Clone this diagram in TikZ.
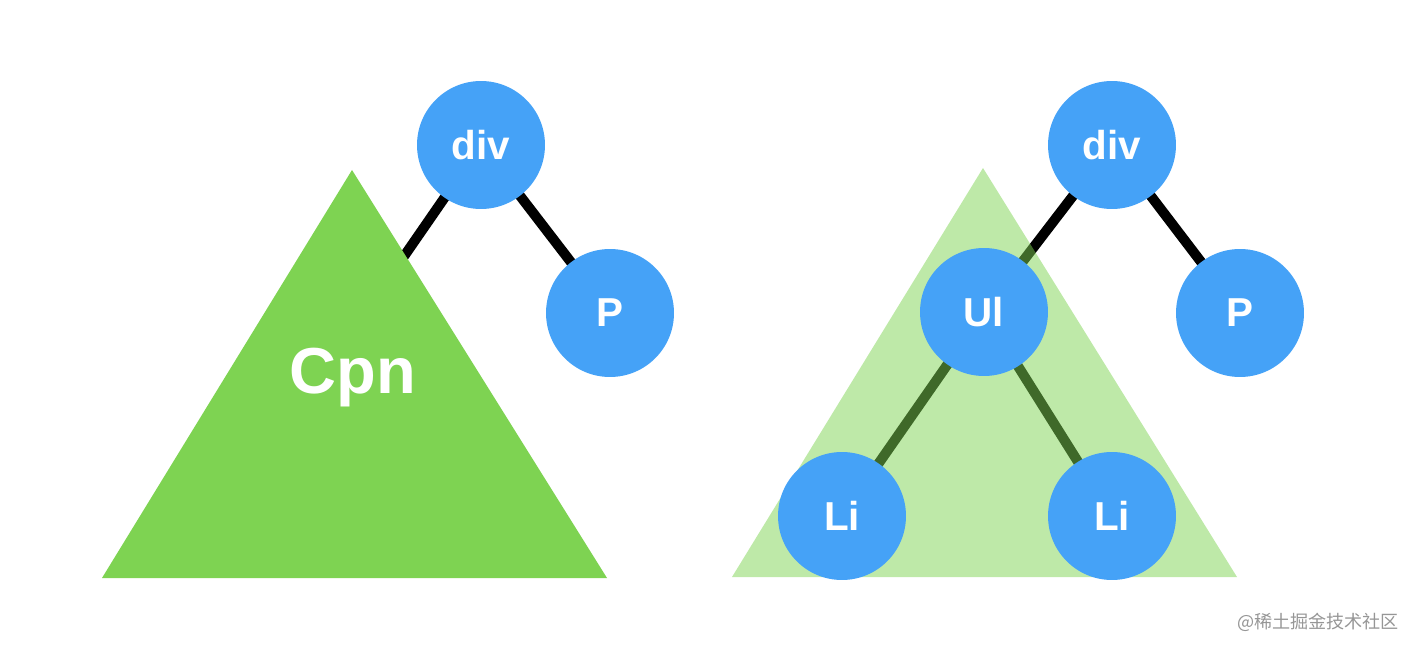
\documentclass[tikz,border=0pt]{standalone}
\usepackage{fontspec}
\setmainfont{Liberation Sans}
\newfontfamily\cjk{Noto Sans CJK SC}
\definecolor{nodeblue}{RGB}{69,162,247}
\definecolor{treegreen}{RGB}{126,211,82}
\definecolor{markgray}{RGB}{150,150,150}

\begin{document}
\begin{tikzpicture}[x=0.02cm, y=-0.02cm,
  vnode/.style={circle, fill=nodeblue, minimum size=2.56cm, inner sep=0pt,
    text=white, font=\fontsize{23}{23}\selectfont\bfseries},
  edge/.style={line width=0.2cm, black}]
  \useasboundingbox (0,0) rectangle (1418,652);
  % left tree: the component hides its subtree
  \coordinate (divL) at (481,145);
  \coordinate (pL) at (610,313);
  \coordinate (cpnTip) at (380,291);
  \draw[edge] (divL) -- (pL);
  \draw[edge] (divL) -- (cpnTip);
  \fill[treegreen] (352,170) -- (607,578) -- (102,578) -- cycle;
  \node[vnode] (divLn) at (divL) {div};
  \node[vnode] (pLn) at (pL) {P};
  \node[text=white, font=\fontsize{37}{37}\selectfont\bfseries] (cpn) at (353,378) {Cpn};
  % right tree: the subtree shows through
  \coordinate (divR) at (1112,145);
  \coordinate (pR) at (1240,313);
  \coordinate (ul) at (984,312);
  \coordinate (liA) at (842,516);
  \coordinate (liB) at (1112,516);
  \draw[edge] (divR) -- (pR);
  \draw[edge] (divR) -- (ul);
  \draw[edge] (ul) -- (liA);
  \draw[edge] (ul) -- (liB);
  \fill[treegreen, fill opacity=0.5] (983,168) -- (1237,577) -- (732,577) -- cycle;
  \node[vnode] (divRn) at (divR) {div};
  \node[vnode] (pRn) at (pR) {P};
  \node[vnode] (uln) at (ul) {Ul};
  \node[vnode] (liAn) at (liA) {Li};
  \node[vnode] (liBn) at (liB) {Li};
  % watermark
  \node[text=markgray, font=\cjk\fontsize{10.3}{10.3}\selectfont] (mark) at (1318,622) {@稀土掘金技术社区};
\end{tikzpicture}
\end{document}
